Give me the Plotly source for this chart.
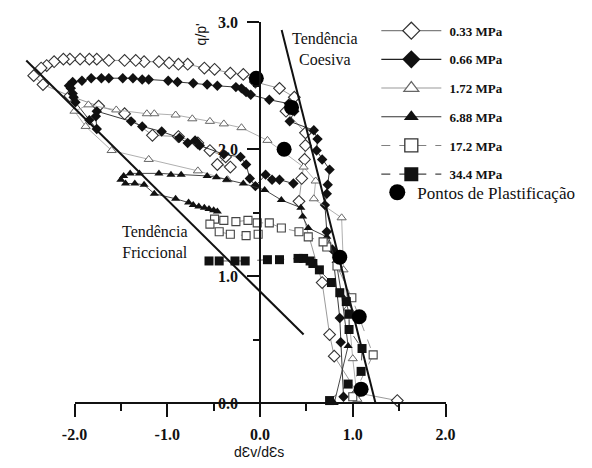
import plotly.graph_objects as go

# ---------------- data ----------------
series_names = ["0.33 MPa", "0.66 MPa", "1.72 MPa", "6.88 MPa", "17.2 MPa", "34.4 MPa"]

x_033 = [1.48, 1.05, 0.80, 0.75, 0.67, 0.42, 0.45, 0.48, 0.49, 0.49, 0.28, 0.37, 0.21, -0.05, -0.18,
         -0.32, -0.49, -0.60, -0.78, -0.88, -0.98, -1.09, -1.25, -1.34, -1.46, -1.63, -1.76, -1.84,
         -1.94, -2.05, -2.12, -2.22, -2.30, -2.36, -2.44, -2.34, -2.05, -1.74, -1.46, -1.16, -0.88,
         -0.67, -0.54, -0.37, -0.46, -0.32]
y_033 = [0.02, 0.08, 0.37, 0.54, 0.95, 1.59, 1.77, 1.92, 2.03, 2.13, 2.30, 2.41, 2.48, 2.53, 2.59,
         2.60, 2.63, 2.64, 2.67, 2.67, 2.68, 2.69, 2.69, 2.70, 2.70, 2.70, 2.71, 2.71,
         2.71, 2.71, 2.71, 2.69, 2.66, 2.64, 2.58, 2.51, 2.42, 2.34, 2.28, 2.11, 2.10,
         2.05, 1.99, 1.94, 1.88, 1.86]

x_066 = [0.90, 0.87, 0.86, 0.78, 0.72, 0.70, 0.72, 0.73, 0.75, 0.67, 0.61, 0.62, 0.58, 0.32, 0.37,
         0.31, 0.10, -0.10, -0.15, -0.20, -0.26, -0.46, -0.57, -0.72, -0.89, -0.99, -1.20, -1.27,
         -1.37, -1.48, -1.63, -1.71, -1.82, -1.92, -2.02, -2.06, -2.04, -2.02, -2.01, -1.99, -1.84,
         -1.76, -1.77, -1.76, -1.39, -1.27, -1.06, -0.87, -0.78, -0.70, -0.65, -0.39, -0.21, -0.15,
         -0.11, -0.05, 0.06, 0.13, 0.21, 0.36]
y_066 = [0.05, 0.48, 0.67, 1.21, 1.35, 1.56, 1.65, 1.72, 1.84, 1.92, 1.99, 2.08, 2.15, 2.22, 2.30,
         2.36, 2.39, 2.43, 2.45, 2.48, 2.49, 2.50, 2.51, 2.52, 2.53, 2.54, 2.55, 2.55,
         2.56, 2.56, 2.56, 2.56, 2.56, 2.54, 2.53, 2.50, 2.48, 2.44, 2.41, 2.37, 2.23,
         2.16, 2.26, 2.30, 2.22, 2.18, 2.14, 2.09, 2.05, 2.07, 2.03, 1.96, 1.94, 1.88,
         1.77, 1.71, 1.80, 1.76, 1.76, 1.73]

x_172 = [1.05, 1.00, 0.95, 0.90, 0.88, 0.58, 0.60, 0.47, 0.08, -0.20, -0.39, -0.54, -0.73, -0.91,
         -1.14, -1.22, -1.55, -1.85, -2.00, -1.88, -1.60, -1.20, -0.67, -0.35]
y_172 = [0.03, 0.35, 0.75, 1.05, 1.46, 1.61, 1.75, 1.86, 2.07, 2.17, 2.20, 2.22, 2.24, 2.27,
         2.28, 2.28, 2.31, 2.35, 2.30, 2.18, 1.99, 1.92, 1.83, 1.76]

x_688 = [0.80, 0.95, 0.88, 0.82, 0.72, 0.52, 0.46, 0.44, 0.23, 0.05, -0.18, -0.36, -0.47, -0.57,
         -0.85, -0.96, -1.09, -1.30, -1.40, -1.47, -1.50, -1.45, -1.35, -1.25, -1.14, -0.91, -0.77,
         -0.72, -0.66, -0.60, -0.55, -0.50, -0.46]
y_688 = [0.00, 0.45, 0.85, 1.12, 1.31, 1.38, 1.47, 1.54, 1.60, 1.68, 1.73, 1.76, 1.78, 1.79,
         1.80, 1.80, 1.81, 1.81, 1.81, 1.79, 1.76, 1.73, 1.73, 1.72, 1.65, 1.61, 1.58,
         1.56, 1.55, 1.54, 1.53, 1.52, 1.51]

x_1720 = [1.00, 1.22, 0.99, 0.83, 0.72, 0.68, 0.52, 0.42, 0.23, 0.10, -0.03, -0.13, -0.26, -0.39,
          -0.49, -0.54, -0.44, -0.32, -0.15, -0.02]
y_1720 = [0.05, 0.38, 0.83, 1.08, 1.23, 1.27, 1.31, 1.35, 1.38, 1.42, 1.42, 1.44, 1.43, 1.44,
          1.45, 1.41, 1.35, 1.33, 1.32, 1.33]

x_344 = [0.75, 0.95, 1.09, 1.10, 0.96, 0.96, 0.93, 0.86, 0.77, 0.64, 0.57, 0.54, 0.47, 0.41, 0.21,
         0.08, -0.16, -0.27, -0.44, -0.55]
y_344 = [0.02, 0.15, 0.25, 0.43, 0.58, 0.70, 0.80, 0.87, 0.95, 1.05, 1.10, 1.12, 1.14, 1.14, 1.13,
         1.13, 1.12, 1.12, 1.12, 1.12]

x_yield = [-0.04, 0.34, 0.26, 0.86, 1.07, 1.09]
y_yield = [2.56, 2.33, 2.00, 1.15, 0.68, 0.11]

fric_x = [-2.52, 0.47]
fric_y = [2.70, 0.54]
coes_x = [0.233, 1.245]
coes_y = [2.94, 0.0]

x_tickvals = [-2.0, -1.0, 0.0, 1.0, 2.0]
x_ticktext = ["-2.0", "-1.0", "0.0", "1.0", "2.0"]
x_minor = [-1.5, -0.5, 0.5, 1.5]
y_tickvals = [0.0, 1.0, 2.0, 3.0]
y_ticktext = ["0.0", "1.0", "2.0", "3.0"]
y_minor = [0.5, 1.5, 2.5]

# ---------------- geometry ----------------
W, H = 592, 468
X0, X_UNIT = 257.0, 96.5     # pixel of x=0, px per unit
Y0, Y_UNIT = 410.0, 131.7    # pixel of y=0, px per unit
x_range = [-X0 / X_UNIT, (W - X0) / X_UNIT]
y_range = [-(H - Y0) / Y_UNIT, Y0 / Y_UNIT]


def fx(v):
    return (X0 + v * X_UNIT) / W


def fy(v):
    return (H - (Y0 - v * Y_UNIT)) / H


def dx(px):  # pixel -> data x
    return (px - X0) / X_UNIT


def dy(py):  # pixel -> data y
    return (Y0 - py) / Y_UNIT


styles = [
    dict(line=dict(color="#808080", width=0.8),
         marker=dict(symbol="diamond", color="white", size=9, line=dict(color="#333", width=1.1)),
         leg=dict(symbol="diamond", color="white", size=13, line=dict(color="#333", width=1.3))),
    dict(line=dict(color="#222", width=0.9),
         marker=dict(symbol="diamond", color="#111", size=8, line=dict(width=0)),
         leg=dict(symbol="diamond", color="#111", size=14, line=dict(width=0))),
    dict(line=dict(color="#9a9a9a", width=0.8),
         marker=dict(symbol="triangle-up", color="white", size=8, line=dict(color="#666", width=1)),
         leg=dict(symbol="triangle-up", color="white", size=13, line=dict(color="#666", width=1.2))),
    dict(line=dict(color="#333", width=0.9),
         marker=dict(symbol="triangle-up", color="#111", size=8, line=dict(width=0)),
         leg=dict(symbol="triangle-up", color="#111", size=13, line=dict(width=0))),
    dict(line=dict(color="#808080", width=0.8, dash="dash"),
         marker=dict(symbol="square", color="white", size=8, line=dict(color="#444", width=1.1)),
         leg=dict(symbol="square", color="white", size=13, line=dict(color="#333", width=1.3))),
    dict(line=dict(color="#444", width=0.9, dash="dash"),
         marker=dict(symbol="square", color="#111", size=9, line=dict(width=0)),
         leg=dict(symbol="square", color="#111", size=14, line=dict(width=0))),
]
data_x = [x_033, x_066, x_172, x_688, x_1720, x_344]
data_y = [y_033, y_066, y_172, y_688, y_1720, y_344]

fig = go.Figure()

for i in range(6):
    fig.add_trace(go.Scatter(x=data_x[i], y=data_y[i], mode="lines+markers",
                             line=styles[i]["line"], marker=styles[i]["marker"],
                             showlegend=False, hoverinfo="skip", cliponaxis=False))

fig.add_trace(go.Scatter(x=fric_x, y=fric_y, mode="lines", line=dict(color="#111", width=2),
                         showlegend=False, hoverinfo="skip"))
fig.add_trace(go.Scatter(x=coes_x, y=coes_y, mode="lines", line=dict(color="#111", width=2),
                         showlegend=False, hoverinfo="skip"))
fig.add_trace(go.Scatter(x=x_yield, y=y_yield, mode="markers",
                         marker=dict(symbol="circle", color="#000", size=15),
                         showlegend=False, hoverinfo="skip"))

# legend entries
for i in range(6):
    fig.add_trace(go.Scatter(x=[None], y=[None], mode="lines+markers",
                             name="\u00a0<b>" + series_names[i] + "</b>",
                             line=dict(color=styles[i]["line"]["color"], width=1.1,
                                       dash=styles[i]["line"].get("dash", "solid")),
                             marker=styles[i]["leg"], legendgroup=str(i), legend="legend"))
fig.add_trace(go.Scatter(x=[None], y=[None], mode="markers",
                         name="Pontos de Plastificação",
                         marker=dict(symbol="circle", color="#000", size=16), legend="legend2"))

# axes-frame dummy trace
fig.add_trace(go.Scatter(x=[None], y=[None], xaxis="x2", yaxis="y2", showlegend=False,
                         hoverinfo="skip"))

tickfont = dict(family="Liberation Serif", size=16, color="#111", weight="bold")

fig.update_layout(
    width=W, height=H,
    margin=dict(l=0, r=0, t=0, b=0),
    paper_bgcolor="white", plot_bgcolor="rgba(0,0,0,0)",
    xaxis=dict(range=x_range, domain=[0, 1], visible=False, fixedrange=True),
    yaxis=dict(range=y_range, domain=[0, 1], visible=False, fixedrange=True),
    xaxis2=dict(range=[-2, 2], domain=[fx(-2), fx(2)], anchor="free", position=fy(0),
                showline=True, linecolor="#111", linewidth=1.6, showgrid=False, zeroline=False,
                ticks="outside", ticklen=13, tickwidth=1.5, tickcolor="#111",
                tickvals=x_tickvals, ticktext=x_ticktext, tickfont=tickfont,
                ticklabelstandoff=4,
                minor=dict(tickvals=x_minor, ticks="outside", ticklen=7, tickwidth=1.5,
                           tickcolor="#111", showgrid=False),
                fixedrange=True),
    yaxis2=dict(range=[0, 3], domain=[fy(0), fy(3)], anchor="free", position=fx(0), side="left",
                showline=True, linecolor="#111", linewidth=1.6, showgrid=False, zeroline=False,
                ticks="outside", ticklen=12, tickwidth=1.5, tickcolor="#111",
                tickvals=y_tickvals, ticktext=y_ticktext, tickfont=tickfont,
                ticklabelstandoff=6,
                minor=dict(tickvals=y_minor, ticks="outside", ticklen=6, tickwidth=1.5,
                           tickcolor="#111", showgrid=False),
                fixedrange=True),
    legend=dict(x=378 / W, xanchor="left", y=1 - 8 / H, yanchor="top",
                font=dict(family="Liberation Serif", size=13, color="#111"),
                bgcolor="rgba(0,0,0,0)", borderwidth=0, tracegroupgap=8.8, itemwidth=60),
    legend2=dict(x=379 / W, xanchor="left", y=1 - 173 / H, yanchor="top",
                 font=dict(family="Liberation Serif", size=17, color="#111"),
                 bgcolor="rgba(0,0,0,0)", borderwidth=0, itemwidth=30),
    showlegend=True,
)

fig.add_annotation(x=dx(325), y=dy(43), xref="x", yref="y",
                   text="Tendência<br>Coesiva", showarrow=False,
                   font=dict(family="Liberation Serif", size=16, color="#111"))
fig.add_annotation(x=dx(147.5), y=dy(242.5), xref="x", yref="y",
                   text="Tendência<br>Friccional", showarrow=False,
                   font=dict(family="Liberation Serif", size=16, color="#111"))
fig.add_annotation(x=dx(196), y=dy(27), xref="x", yref="y",
                   text="q/p'", textangle=-90, showarrow=False,
                   font=dict(family="Liberation Sans", size=14, color="#111"))
fig.add_annotation(x=dx(256), y=dy(460.5), xref="x", yref="y",
                   text="dƐv/dƐs", showarrow=False,
                   font=dict(family="Liberation Sans", size=14, color="#111"))

fig.write_html("out.html")
